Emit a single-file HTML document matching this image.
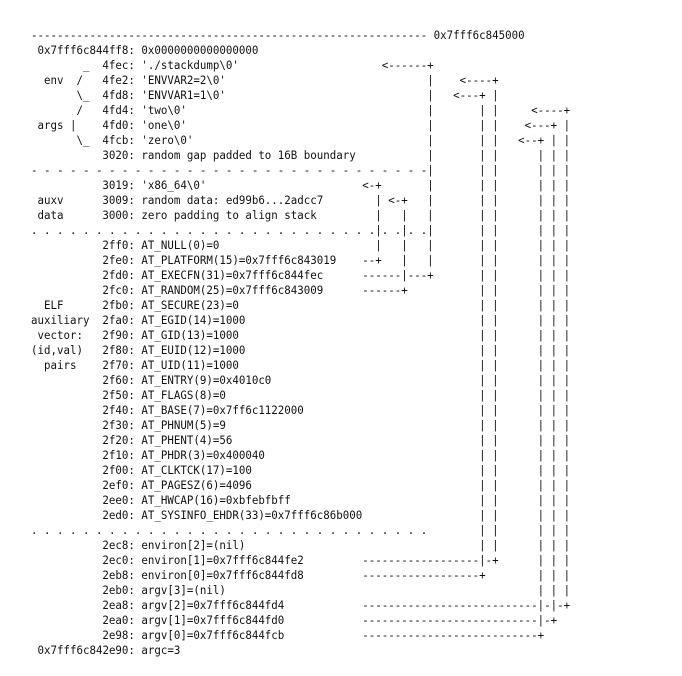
<!DOCTYPE html>
<html><head><meta charset="utf-8"><style>
html,body{margin:0;padding:0;background:#fff;width:682px;height:676px;overflow:hidden}
#c{position:absolute;left:31px;top:28px;font-family:"DejaVu Sans Mono","Liberation Mono",monospace;font-size:11.2px;color:#111;transform:scaleX(0.9643);transform-origin:0 0;width:700px}
.r{position:relative;height:15px;line-height:15px}
.r span{position:absolute;top:0;white-space:pre}
</style></head><body><div id="c">
<div class="r"><span style="left:0ch">-------------------------------------------------------------</span><span style="left:62ch">0x7fff6c845000</span></div>
<div class="r"><span style="left:1ch">0x7fff6c844ff8: 0x0000000000000000</span></div>
<div class="r"><span style="left:8ch">_</span><span style="left:11ch">4fec: './stackdump\0'</span><span style="left:54ch">&lt;------+</span></div>
<div class="r"><span style="left:2ch">env</span><span style="left:7ch">/</span><span style="left:11ch">4fe2: 'ENVVAR2=2\0'</span><span style="left:61ch">|</span><span style="left:66ch">&lt;----+</span></div>
<div class="r"><span style="left:7ch">\_</span><span style="left:11ch">4fd8: 'ENVVAR1=1\0'</span><span style="left:61ch">|</span><span style="left:65ch">&lt;---+ |</span></div>
<div class="r"><span style="left:7ch">/</span><span style="left:11ch">4fd4: 'two\0'</span><span style="left:61ch">|</span><span style="left:69ch">| |</span><span style="left:77ch">&lt;----+</span></div>
<div class="r"><span style="left:1ch">args |</span><span style="left:11ch">4fd0: 'one\0'</span><span style="left:61ch">|</span><span style="left:69ch">| |</span><span style="left:76ch">&lt;---+ |</span></div>
<div class="r"><span style="left:7ch">\_</span><span style="left:11ch">4fcb: 'zero\0'</span><span style="left:61ch">|</span><span style="left:69ch">| |</span><span style="left:75ch">&lt;--+ | |</span></div>
<div class="r"><span style="left:11ch">3020: random gap padded to 16B boundary</span><span style="left:61ch">|</span><span style="left:69ch">| |</span><span style="left:78ch">| | |</span></div>
<div class="r"><span style="left:0ch">- - - - - - - - - - - - - - - - - - - - - - - - - - - - - - -|</span><span style="left:69ch">| |</span><span style="left:78ch">| | |</span></div>
<div class="r"><span style="left:11ch">3019: 'x86_64\0'</span><span style="left:51ch">&lt;-+</span><span style="left:61ch">|</span><span style="left:69ch">| |</span><span style="left:78ch">| | |</span></div>
<div class="r"><span style="left:1ch">auxv</span><span style="left:11ch">3009: random data: ed99b6...2adcc7</span><span style="left:53ch">| &lt;-+</span><span style="left:61ch">|</span><span style="left:69ch">| |</span><span style="left:78ch">| | |</span></div>
<div class="r"><span style="left:1ch">data</span><span style="left:11ch">3000: zero padding to align stack</span><span style="left:53ch">|   |   |</span><span style="left:69ch">| |</span><span style="left:78ch">| | |</span></div>
<div class="r"><span style="left:0ch">. . . . . . . . . . . . . . . . . . . . . . . . . . .|. .|. .|</span><span style="left:69ch">| |</span><span style="left:78ch">| | |</span></div>
<div class="r"><span style="left:11ch">2ff0: AT_NULL(0)=0</span><span style="left:53ch">|   |   |</span><span style="left:69ch">| |</span><span style="left:78ch">| | |</span></div>
<div class="r"><span style="left:11ch">2fe0: AT_PLATFORM(15)=0x7fff6c843019</span><span style="left:51ch">--+   |   |</span><span style="left:69ch">| |</span><span style="left:78ch">| | |</span></div>
<div class="r"><span style="left:11ch">2fd0: AT_EXECFN(31)=0x7fff6c844fec</span><span style="left:51ch">------|---+</span><span style="left:69ch">| |</span><span style="left:78ch">| | |</span></div>
<div class="r"><span style="left:11ch">2fc0: AT_RANDOM(25)=0x7fff6c843009</span><span style="left:51ch">------+</span><span style="left:69ch">| |</span><span style="left:78ch">| | |</span></div>
<div class="r"><span style="left:2ch">ELF</span><span style="left:11ch">2fb0: AT_SECURE(23)=0</span><span style="left:69ch">| |</span><span style="left:78ch">| | |</span></div>
<div class="r"><span style="left:0ch">auxiliary</span><span style="left:11ch">2fa0: AT_EGID(14)=1000</span><span style="left:69ch">| |</span><span style="left:78ch">| | |</span></div>
<div class="r"><span style="left:1ch">vector:</span><span style="left:11ch">2f90: AT_GID(13)=1000</span><span style="left:69ch">| |</span><span style="left:78ch">| | |</span></div>
<div class="r"><span style="left:0ch">(id,val)</span><span style="left:11ch">2f80: AT_EUID(12)=1000</span><span style="left:69ch">| |</span><span style="left:78ch">| | |</span></div>
<div class="r"><span style="left:2ch">pairs</span><span style="left:11ch">2f70: AT_UID(11)=1000</span><span style="left:69ch">| |</span><span style="left:78ch">| | |</span></div>
<div class="r"><span style="left:11ch">2f60: AT_ENTRY(9)=0x4010c0</span><span style="left:69ch">| |</span><span style="left:78ch">| | |</span></div>
<div class="r"><span style="left:11ch">2f50: AT_FLAGS(8)=0</span><span style="left:69ch">| |</span><span style="left:78ch">| | |</span></div>
<div class="r"><span style="left:11ch">2f40: AT_BASE(7)=0x7ff6c1122000</span><span style="left:69ch">| |</span><span style="left:78ch">| | |</span></div>
<div class="r"><span style="left:11ch">2f30: AT_PHNUM(5)=9</span><span style="left:69ch">| |</span><span style="left:78ch">| | |</span></div>
<div class="r"><span style="left:11ch">2f20: AT_PHENT(4)=56</span><span style="left:69ch">| |</span><span style="left:78ch">| | |</span></div>
<div class="r"><span style="left:11ch">2f10: AT_PHDR(3)=0x400040</span><span style="left:69ch">| |</span><span style="left:78ch">| | |</span></div>
<div class="r"><span style="left:11ch">2f00: AT_CLKTCK(17)=100</span><span style="left:69ch">| |</span><span style="left:78ch">| | |</span></div>
<div class="r"><span style="left:11ch">2ef0: AT_PAGESZ(6)=4096</span><span style="left:69ch">| |</span><span style="left:78ch">| | |</span></div>
<div class="r"><span style="left:11ch">2ee0: AT_HWCAP(16)=0xbfebfbff</span><span style="left:69ch">| |</span><span style="left:78ch">| | |</span></div>
<div class="r"><span style="left:11ch">2ed0: AT_SYSINFO_EHDR(33)=0x7fff6c86b000</span><span style="left:69ch">| |</span><span style="left:78ch">| | |</span></div>
<div class="r"><span style="left:0ch">. . . . . . . . . . . . . . . . . . . . . . . . . . . . . . .</span><span style="left:69ch">| |</span><span style="left:78ch">| | |</span></div>
<div class="r"><span style="left:11ch">2ec8: environ[2]=(nil)</span><span style="left:69ch">| |</span><span style="left:78ch">| | |</span></div>
<div class="r"><span style="left:11ch">2ec0: environ[1]=0x7fff6c844fe2</span><span style="left:51ch">------------------|-+</span><span style="left:78ch">| | |</span></div>
<div class="r"><span style="left:11ch">2eb8: environ[0]=0x7fff6c844fd8</span><span style="left:51ch">------------------+</span><span style="left:78ch">| | |</span></div>
<div class="r"><span style="left:11ch">2eb0: argv[3]=(nil)</span><span style="left:78ch">| | |</span></div>
<div class="r"><span style="left:11ch">2ea8: argv[2]=0x7fff6c844fd4</span><span style="left:51ch">---------------------------|-|-+</span></div>
<div class="r"><span style="left:11ch">2ea0: argv[1]=0x7fff6c844fd0</span><span style="left:51ch">---------------------------|-+</span></div>
<div class="r"><span style="left:11ch">2e98: argv[0]=0x7fff6c844fcb</span><span style="left:51ch">---------------------------+</span></div>
<div class="r"><span style="left:1ch">0x7fff6c842e90: argc=3</span></div>
</div></body></html>
